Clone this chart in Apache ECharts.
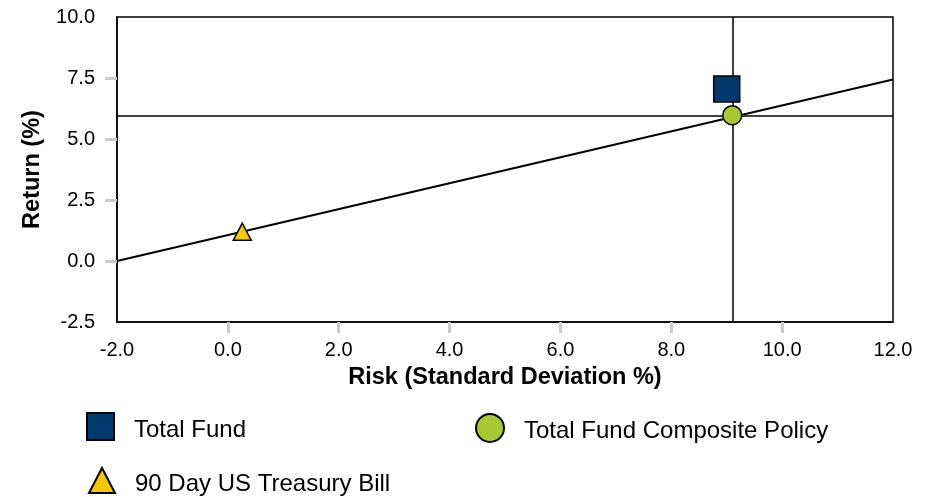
<!DOCTYPE html>
<html>
<head>
<meta charset="utf-8">
<script src="https://cdn.jsdelivr.net/npm/echarts@6/dist/echarts.min.js"></script>
<style>
html,body{margin:0;padding:0;background:#fff;}
#chart{width:934px;height:497px;}
</style>
</head>
<body>
<div id="chart"></div>
<script>
// ---- data ----
const seriesNames = ['Total Fund', 'Total Fund Composite Policy', '90 Day US Treasury Bill'];
const totalFund = [[9.0, 7.05]];            // [risk, return]
const compositePolicy = [[9.1, 5.97]];
const tBill = [[0.26, 1.2]];
const marketLine = [[-2.0, 0.0], [12.0, 7.44]];  // capital market line end points
const crossRisk = 9.1;     // vertical reference line
const crossReturn = 5.96;  // horizontal reference line
const xTickValues = [0, 2, 4, 6, 8, 10];
const yTickValues = [0, 2.5, 5, 7.5];

const FONT = '"Liberation Sans", Arial, sans-serif';
const chart = echarts.init(document.getElementById('chart'));

const legendText = {
  fontFamily: FONT, fontSize: 24, color: '#000', padding: [0, 0, 0, 15],
  rich: {t: {fontFamily: FONT, fontSize: 24, color: '#000', padding: [7, 0, 0, 0]}}
};
const legendFmt = name => '{t|' + name + '}';

chart.setOption({
  animation: false,
  backgroundColor: '#fff',
  grid: {left: 117, right: 41, top: 17, bottom: 175, show: true, borderColor: '#000', borderWidth: 1.5, backgroundColor: 'transparent'},
  xAxis: {
    type: 'value', min: -2, max: 12, interval: 2,
    name: 'Risk (Standard Deviation %)', nameLocation: 'middle', nameGap: 44,
    nameTextStyle: {fontFamily: FONT, fontSize: 23.5, fontWeight: 'bold', color: '#000'},
    axisLine: {show: true, onZero: false, lineStyle: {color: '#000', width: 1.5}},
    axisTick: {show: true, customValues: xTickValues, length: 11, lineStyle: {color: '#c8cbd0', width: 3}},
    axisLabel: {fontFamily: FONT, fontSize: 20, color: '#000', margin: 18, formatter: v => v.toFixed(1)},
    splitLine: {show: false}
  },
  yAxis: {
    type: 'value', min: -2.5, max: 10, interval: 2.5,
    name: 'Return (%)', nameLocation: 'middle', nameGap: 72,
    nameTextStyle: {fontFamily: FONT, fontSize: 23.5, fontWeight: 'bold', color: '#000'},
    axisLine: {show: true, onZero: false, lineStyle: {color: '#000', width: 1.5}},
    axisTick: {show: true, customValues: yTickValues, length: 12, lineStyle: {color: '#c8cbd0', width: 3}},
    axisLabel: {fontFamily: FONT, fontSize: 20, color: '#000', margin: 22, formatter: v => v.toFixed(1)},
    splitLine: {show: false}
  },
  legend: [
    {data: [seriesNames[0]], left: 86, top: 412, padding: 0, itemWidth: 27, itemHeight: 27, icon: 'rect', formatter: legendFmt, textStyle: legendText},
    {data: [seriesNames[1]], left: 475, top: 413, padding: 0, itemWidth: 28, itemHeight: 28, icon: 'circle', formatter: legendFmt, textStyle: legendText},
    {data: [seriesNames[2]], left: 88, top: 467, padding: 0, itemWidth: 26, itemHeight: 25, icon: 'triangle', formatter: legendFmt, textStyle: legendText}
  ],
  series: [
    {
      name: 'Market Line', type: 'line', data: marketLine, symbol: 'none', z: 1,
      lineStyle: {color: '#000', width: 2}, silent: true,
      markLine: {
        silent: true, symbol: 'none', label: {show: false},
        lineStyle: {color: '#000', width: 1.5, type: 'solid'},
        data: [{xAxis: crossRisk}, {yAxis: crossReturn}]
      }
    },
    {
      name: seriesNames[0], type: 'scatter', data: totalFund, symbol: 'rect', symbolSize: 26, z: 5,
      itemStyle: {color: '#003a6c', borderColor: '#000', borderWidth: 1.5, opacity: 1}
    },
    {
      name: seriesNames[1], type: 'scatter', data: compositePolicy, symbol: 'circle', symbolSize: 19, z: 5,
      itemStyle: {color: '#a8c832', borderColor: '#000', borderWidth: 1.5, opacity: 1}
    },
    {
      name: seriesNames[2], type: 'scatter', data: tBill, symbol: 'triangle', symbolSize: [18, 17], z: 5,
      itemStyle: {color: '#f5c800', borderColor: '#000', borderWidth: 1.5, opacity: 1}
    }
  ]
});
</script>
</body>
</html>
